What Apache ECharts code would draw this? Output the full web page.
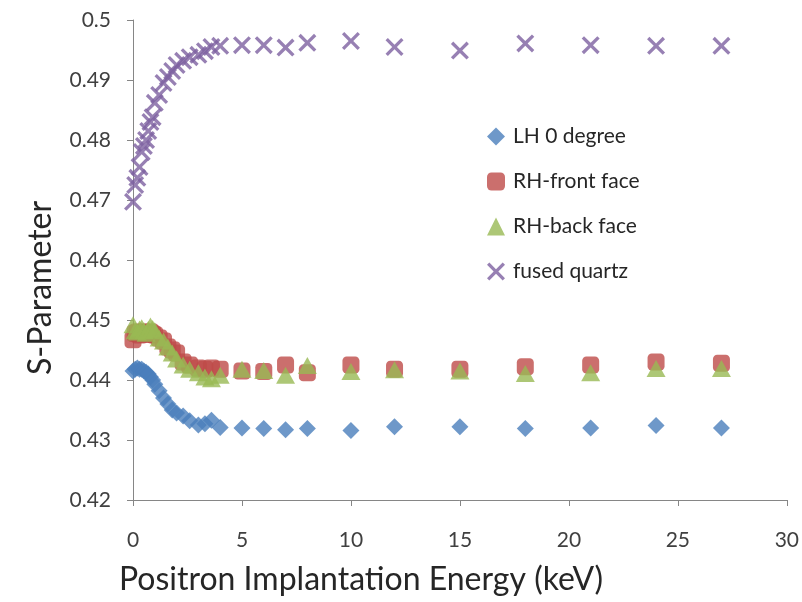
<!DOCTYPE html>
<html>
<head>
<meta charset="utf-8">
<script src="https://cdn.jsdelivr.net/npm/echarts@6/dist/echarts.min.js"></script>
<style>html,body{margin:0;padding:0;background:#fff}#c{width:802px;height:602px}</style>
</head>
<body>
<div id="c"></div>
<script>
var energies = [0, 0.1, 0.2, 0.3, 0.4, 0.5, 0.6, 0.7, 0.8, 0.9, 1.0, 1.2, 1.4, 1.6, 1.8, 2.0, 2.3, 2.6, 3.0, 3.3, 3.6, 4.0, 5, 6, 7, 8, 10, 12, 15, 18, 21, 24, 27];
var lh0 = [0.4415, 0.4418, 0.4420, 0.4418, 0.4418, 0.4415, 0.4413, 0.4410, 0.4405, 0.4400, 0.4393, 0.4382, 0.4370, 0.4360, 0.4350, 0.4345, 0.4340, 0.4332, 0.4325, 0.4327, 0.4333, 0.4321, 0.4320, 0.4319, 0.4317, 0.4319, 0.4316, 0.4322, 0.4322, 0.4319, 0.4320, 0.4324, 0.4320];
var rhFront = [0.4467, 0.4478, 0.4480, 0.4475, 0.4478, 0.4480, 0.4476, 0.4478, 0.4480, 0.4477, 0.4475, 0.4470, 0.4465, 0.4455, 0.4450, 0.4445, 0.4430, 0.4425, 0.4420, 0.4418, 0.4420, 0.4418, 0.4415, 0.4414, 0.4425, 0.4412, 0.4425, 0.4418, 0.4418, 0.4422, 0.4425, 0.4430, 0.4428];
var rhBack = [0.4492, 0.4482, 0.4480, 0.4485, 0.4487, 0.4482, 0.4478, 0.4484, 0.4490, 0.4486, 0.4482, 0.4470, 0.4465, 0.4455, 0.4445, 0.4435, 0.4425, 0.4418, 0.4412, 0.4405, 0.4402, 0.4408, 0.4418, 0.4416, 0.4408, 0.4424, 0.4414, 0.4417, 0.4415, 0.4411, 0.4412, 0.4419, 0.4419];
var fusedQuartz = [0.4697, 0.4725, 0.4737, 0.4755, 0.4780, 0.4790, 0.4800, 0.4815, 0.4830, 0.4838, 0.4862, 0.4875, 0.4895, 0.4905, 0.4915, 0.4925, 0.4932, 0.4938, 0.4942, 0.4948, 0.4955, 0.4957, 0.4958, 0.4958, 0.4954, 0.4962, 0.4965, 0.4955, 0.4949, 0.4961, 0.4958, 0.4957, 0.4957];
var seriesNames = ['LH 0 degree', 'RH-front face', 'RH-back face', 'fused quartz'];
var xTitle = 'Positron Implantation Energy (keV)';
var yTitle = 'S-Parameter';

function pairs(ys) { return energies.map(function (x, i) { return [x, ys[i]]; }); }

var crossPath = 'path://M0,1.3L1.3,0L5,3.7L8.7,0L10,1.3L6.3,5L10,8.7L8.7,10L5,6.3L1.3,10L0,8.7L3.7,5Z';
var font = 'Lato, "Open Sans", sans-serif';

var chart = echarts.init(document.getElementById('c'), null, {renderer: 'canvas'});
chart.setOption({
  animation: false,
  backgroundColor: '#ffffff',
  grid: {left: 133, right: 14, top: 20, bottom: 102},
  legend: {
    orient: 'vertical',
    left: 482, top: 121,
    itemGap: 24,
    itemWidth: 18, itemHeight: 18,
    textStyle: {fontFamily: font, fontSize: 21, color: '#262626', padding: [0, 0, 0, 3]},
    data: [
      {name: seriesNames[0], icon: 'diamond'},
      {name: seriesNames[1], icon: 'roundRect'},
      {name: seriesNames[2], icon: 'triangle'},
      {name: seriesNames[3], icon: crossPath}
    ]
  },
  xAxis: {
    type: 'value', min: 0, max: 30, interval: 5,
    name: xTitle, nameLocation: 'middle', nameGap: 64,
    nameTextStyle: {fontFamily: font, fontSize: 32, color: '#262626', padding: [0, 198, 0, 0]},
    axisLine: {onZero: false, lineStyle: {color: '#868686', width: 1}},
    axisTick: {show: true, length: 6, lineStyle: {color: '#868686'}},
    axisLabel: {fontFamily: font, fontSize: 21, color: '#404040', margin: 30},
    splitLine: {show: false}
  },
  yAxis: {
    type: 'value', min: 0.42, max: 0.5, interval: 0.01,
    name: yTitle, nameLocation: 'middle', nameGap: 76,
    nameTextStyle: {fontFamily: font, fontSize: 32, color: '#262626', padding: [0, 56, 0, 0]},
    axisLine: {show: true, lineStyle: {color: '#868686', width: 1}},
    axisTick: {show: true, length: 6, lineStyle: {color: '#868686'}},
    axisLabel: {fontFamily: font, fontSize: 21, color: '#404040', margin: 22},
    splitLine: {show: false}
  },
  series: [
    {name: seriesNames[0], type: 'scatter', symbol: 'diamond', symbolSize: 17,
     itemStyle: {color: '#4A7EBB'}, data: pairs(lh0)},
    {name: seriesNames[1], type: 'scatter', symbol: 'roundRect', symbolSize: 17,
     itemStyle: {color: '#BE4B48'}, data: pairs(rhFront)},
    {name: seriesNames[2], type: 'scatter', symbol: 'triangle', symbolSize: [19, 17],
     itemStyle: {color: '#98B954'}, data: pairs(rhBack)},
    {name: seriesNames[3], type: 'scatter', symbol: crossPath, symbolSize: 18,
     itemStyle: {color: '#7D60A0'}, data: pairs(fusedQuartz)}
  ]
});
</script>
</body>
</html>
